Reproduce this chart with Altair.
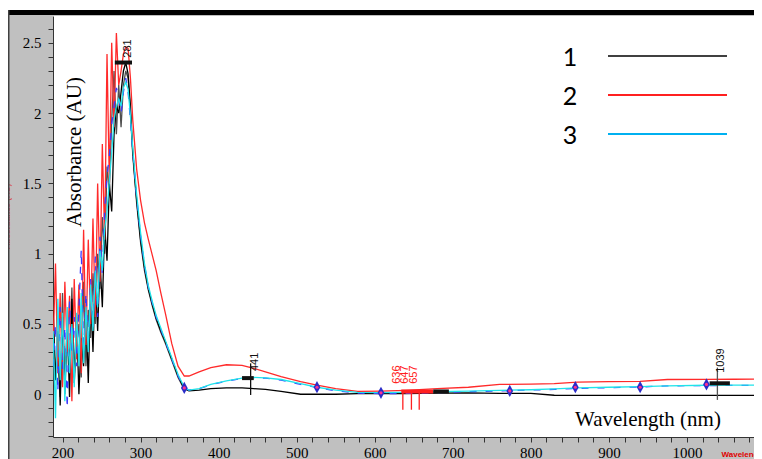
import altair as alt
import pandas as pd

# ---------------- data ----------------
WL_NOISY = [188, 191, 194, 197, 200, 203, 206, 209, 212, 215, 218, 221, 224, 227, 230,
            233, 236, 239, 242, 245, 248, 251, 254, 257, 260, 263, 266, 269, 272]
WL_SMOOTH = [275, 278, 281, 284, 287, 290, 295, 300, 305, 310,
             315, 320, 326, 332, 340, 348, 356, 362, 375, 390,
             410, 430, 445, 460, 480, 505, 526, 550, 578, 608,
             640, 680, 720, 760, 800, 830, 860, 900, 940, 975,
             1025, 1060, 1096]

S1_NOISY = [0.6, 0.1, 0.45, -0.08, 0.55, 0.05, 0.5, -0.02, 0.68, 0.12, 0.55, 0.0, 0.4, 0.2, 0.62,
            0.08, 0.75, 0.3, 0.85, 0.45, 0.95, 0.62, 1.2, 0.95, 1.5, 1.3, 1.85, 2.05, 2.0]
S1_SMOOTH = [2.15, 2.3, 2.36, 2.28, 2.05, 1.72, 1.38, 1.1, 0.9, 0.75,
             0.64, 0.54, 0.45, 0.37, 0.25, 0.13, 0.04, 0.025, 0.03, 0.04,
             0.045, 0.045, 0.04, 0.035, 0.02, 0.0, 0.0, 0.0, 0.005, 0.005,
             0.005, 0.008, 0.01, 0.007, 0.007, -0.007, -0.008, -0.008, -0.008, -0.008,
             -0.008, -0.008, -0.008]

S2_NOISY = [0.35, 0.93, 0.15, 0.72, 0.05, 0.8, 0.3, 0.7, -0.05, 0.82, 0.25, 0.78, 0.15, 1.17, 0.35,
            1.1, 0.5, 1.25, 0.55, 1.5, 0.8, 1.78, 1.1, 2.42, 1.5, 2.5, 1.9, 2.57, 2.2]
S2_SMOOTH = [2.3, 2.42, 2.47, 2.46, 2.25, 1.95, 1.6, 1.38, 1.22, 1.1,
             0.99, 0.88, 0.72, 0.57, 0.36, 0.2, 0.13, 0.13, 0.16, 0.19,
             0.21, 0.205, 0.185, 0.16, 0.125, 0.09, 0.065, 0.04, 0.02, 0.022,
             0.028, 0.04, 0.05, 0.07, 0.072, 0.075, 0.086, 0.09, 0.092, 0.105,
             0.106, 0.107, 0.108]

S3_NOISY = [0.45, -0.17, 0.68, 0.1, 0.58, -0.05, 0.62, 0.15, 0.5, 0.05, 0.58, 0.2, 0.72, 0.22, 0.62,
            0.3, 0.78, 0.45, 0.88, 0.62, 1.02, 0.88, 1.18, 1.3, 1.52, 1.72, 1.95, 2.05, 2.1]
S3_SMOOTH = [2.05, 2.18, 2.22, 2.17, 1.98, 1.75, 1.42, 1.15, 0.93, 0.77,
             0.66, 0.56, 0.47, 0.38, 0.26, 0.14, 0.05, 0.03, 0.04, 0.07,
             0.095, 0.115, 0.12, 0.117, 0.105, 0.075, 0.05, 0.03, 0.014, 0.012,
             0.013, 0.018, 0.022, 0.028, 0.032, 0.038, 0.045, 0.05, 0.055, 0.06,
             0.064, 0.065, 0.065]

S4_NOISY = [0.2, 0.5, 0.02, 0.62, 0.18, 0.48, -0.1, 0.66, 0.28, 0.55, 0.2, 0.6, 1.03, 0.3, 0.72,
            0.35, 0.82, 0.48, 0.98, 0.55, 1.12, 0.85, 1.32, 1.55, 1.7, 1.92, 2.05, 2.18, 2.12]
S4_SMOOTH = [2.0, 2.15, 2.25, 2.15, 1.95, 1.73, 1.4, 1.13, 0.92, 0.76,
             0.65, 0.55, 0.46, 0.37, 0.25, 0.13, 0.045, 0.03, 0.04, 0.068,
             0.093, 0.113, 0.118, 0.115, 0.1, 0.07, 0.048, 0.025, 0.008, 0.005,
             0.006, 0.012, 0.018, 0.024, 0.03, 0.035, 0.042, 0.047, 0.052, 0.06,
             0.062, 0.063, 0.063]

S5_NOISY = [0.58, 0.12, 0.3, -0.02, 0.72, 0.0, 0.45, 0.22, 0.76, 0.08, 0.36, 0.5, 0.12, 0.8, 0.2,
            0.6, 0.4, 0.86, 0.5, 1.0, 0.75, 1.26, 1.0, 1.62, 1.45, 1.95, 2.3, 1.85, 2.2]
S5_SMOOTH = [1.9, 2.2, 2.3, 2.25, 2.0, 1.7, 1.36, 1.08, 0.88, 0.74,
             0.63, 0.53, 0.44, 0.36, 0.24, 0.12, 0.035]

MARK_NM = [356, 526, 608, 773, 857, 940, 1025]
MARK_ABS = [0.045, 0.05, 0.01, 0.024, 0.05, 0.05, 0.07]

PEAK_LINE_NM = [441, 636, 647, 657, 1039]
PEAK_LINE_TOP = [0.22, 0.016, 0.016, 0.016, 0.19]
PEAK_LINE_BOT = [-0.005, -0.11, -0.11, -0.11, -0.04]
PEAK_LINE_GROUP = ["main", "red", "red", "red", "grey"]

BAR_START = [267, 430, 634, 675, 1029]
BAR_END = [289, 445, 675, 695, 1055]
BAR_ABS = [2.36, 0.115, 0.02, 0.02, 0.078]
BAR_GROUP = ["main", "main", "red", "main", "main"]

LABEL_TEXT = ["281", "441", "636", "647", "657", "1039"]
LABEL_NM = [284.5, 446.0, 628.5, 639.4, 650.3, 1044.0]
LABEL_ABS = [2.46, 0.23, 0.14, 0.14, 0.14, 0.24]
LABEL_GROUP = ["main", "main", "red", "red", "red", "main"]

LEGEND_LABELS = ["1", "2", "3"]
LEGEND_COLORS = ["#000000", "#ff2020", "#00b0f0"]

# ---------------- helpers ----------------
def series_df(noisy, smooth):
    wl = WL_NOISY + WL_SMOOTH
    vals = noisy + smooth
    return pd.DataFrame([{"wl": w, "abs": v} for w, v in zip(wl, vals)])

PLOT_W = 701
PLOT_H = 421

xscale = alt.Scale(domain=[187.8, 1085.9], nice=False, zero=False)
yscale = alt.Scale(domain=[-0.304, 2.691], nice=False, zero=False)

xaxis = alt.Axis(
    values=list(range(200, 1100, 20)),
    labelExpr="datum.value % 100 == 0 ? format(datum.value, 'd') : ''",
    labelFont="Liberation Serif", labelFontSize=15, labelColor="#000000",
    labelPadding=3, labelOverlap=False, labelFlush=False,
    tickSize=5, tickColor="#333333", domainColor="#333333", grid=False,
    title="Wavelength (nm)", titleColor="#e00000", titleFontSize=8,
    titleFont="Liberation Sans", titleFontWeight="bold",
    titleX=668, titleY=17, titleAlign="left", titleBaseline="middle",
)
yaxis = alt.Axis(
    values=[round(-0.3 + 0.1 * i, 1) for i in range(30)],
    labelExpr="abs(datum.value * 2 - round(datum.value * 2)) < 0.001 ? format(datum.value, '~g') : ''",
    labelFont="Liberation Serif", labelFontSize=15, labelColor="#000000",
    labelPadding=7, labelOverlap=False, labelFlush=False,
    tickSize=5, tickColor="#333333", domainColor="#333333", grid=False,
    title="Absorbance (AU)", titleColor="#e00000", titleFontSize=8, titleOpacity=0.6,
    titleX=-42, titleY=200, titleAngle=270, titleAlign="center", titleBaseline="bottom",
)

X = lambda f: alt.X(f, type="quantitative", scale=xscale, axis=xaxis)
Y = lambda f: alt.Y(f, type="quantitative", scale=yscale, axis=yaxis)

layers = []
line_specs = [
    (S5_NOISY, S5_SMOOTH, "#505050", None),
    (S1_NOISY, S1_SMOOTH, "#000000", None),
    (S2_NOISY, S2_SMOOTH, "#ff2a2a", None),
    (S4_NOISY, S4_SMOOTH, "#3a3aff", [7, 9]),
    (S3_NOISY, S3_SMOOTH, "#1fe3ea", None),
]
for noisy, smooth, color, dash in line_specs:
    kw = dict(color=color, strokeWidth=1.3, clip=True)
    if dash:
        kw["strokeDash"] = dash
    layers.append(alt.Chart(series_df(noisy, smooth)).mark_line(**kw).encode(x=X("wl"), y=Y("abs")))

group_color = alt.Color("group:N", scale=alt.Scale(domain=["main", "red", "grey"],
                                                   range=["#111111", "#ff2020", "#555555"]), legend=None)

peaks = pd.DataFrame({"wl": PEAK_LINE_NM, "top": PEAK_LINE_TOP, "bot": PEAK_LINE_BOT, "group": PEAK_LINE_GROUP})
layers.append(alt.Chart(peaks).mark_rule(strokeWidth=1.3).encode(
    x=X("wl"), y=Y("top"), y2="bot", color=group_color))

bars = pd.DataFrame({"start": BAR_START, "end": BAR_END, "abs": BAR_ABS, "group": BAR_GROUP})
layers.append(alt.Chart(bars).mark_rule(strokeWidth=4).encode(
    x=X("start"), x2="end", y=Y("abs"), color=group_color))

marks = pd.DataFrame({"wl": MARK_NM, "abs": MARK_ABS})
layers.append(alt.Chart(marks).mark_point(
    shape="M0,-1L0.55,0L0,1L-0.55,0Z", filled=True, size=150, color="#2b2bc8", opacity=1
).encode(x=X("wl"), y=Y("abs")))
layers.append(alt.Chart(marks).mark_point(
    shape="circle", filled=True, size=10, color="#ff3090", opacity=1
).encode(x=X("wl"), y=Y("abs")))

labels = pd.DataFrame({"wl": LABEL_NM, "abs": LABEL_ABS, "txt": LABEL_TEXT, "group": LABEL_GROUP})
layers.append(alt.Chart(labels).mark_text(
    angle=270, align="center", baseline="middle", font="Liberation Sans", fontSize=11
).encode(x=X("wl"), y=Y("abs"), text="txt:N", color=group_color))

# axis titles drawn inside the plot
layers.append(alt.Chart(pd.DataFrame({"t": ["Absorbance (AU)"]})).mark_text(
    angle=270, align="center", baseline="middle", font="Liberation Serif", fontSize=21, color="#000000"
).encode(x=alt.value(22), y=alt.value(136), text="t:N"))
layers.append(alt.Chart(pd.DataFrame({"t": ["Wavelength (nm)"]})).mark_text(
    align="center", baseline="middle", font="Liberation Serif", fontSize=21, color="#000000"
).encode(x=alt.value(595), y=alt.value(404), text="t:N"))

# legend
for i, (lab, col) in enumerate(zip(LEGEND_LABELS, LEGEND_COLORS)):
    yy = 40 + i * 39
    layers.append(alt.Chart(pd.DataFrame({"t": [lab]})).mark_text(
        align="center", baseline="middle", font="Lato", fontSize=25, color="#000000"
    ).encode(x=alt.value(517), y=alt.value(yy + 2), text="t:N"))
    layers.append(alt.Chart(pd.DataFrame({"t": [lab]})).mark_rule(
        color=col, strokeWidth=2 if i else 1.6
    ).encode(x=alt.value(555), x2=alt.value(674), y=alt.value(yy)))

# frame decoration (top black bar, left dark edge)
frame = pd.DataFrame({"k": [0]})
layers.append(alt.Chart(frame).mark_rect(color="#ffffff").encode(
    x=alt.value(-45), x2=alt.value(PLOT_W), y=alt.value(-8), y2=alt.value(-6)))
layers.append(alt.Chart(frame).mark_rect(color="#000000").encode(
    x=alt.value(-45), x2=alt.value(PLOT_W), y=alt.value(-6), y2=alt.value(-1)))
layers.append(alt.Chart(frame).mark_rect(color="#404040").encode(
    x=alt.value(-45), x2=alt.value(-43.5), y=alt.value(-6), y2=alt.value(443)))

chart = alt.layer(*layers).properties(
    width=PLOT_W, height=PLOT_H,
    padding={"left": 45, "top": 8, "right": 0, "bottom": 22},
    autosize=alt.AutoSizeParams(type="none"),
).configure(background="#c0c0c0").configure_view(fill="white", strokeWidth=0)

chart.save("out.html", embed_options={"renderer": "svg", "actions": False})
